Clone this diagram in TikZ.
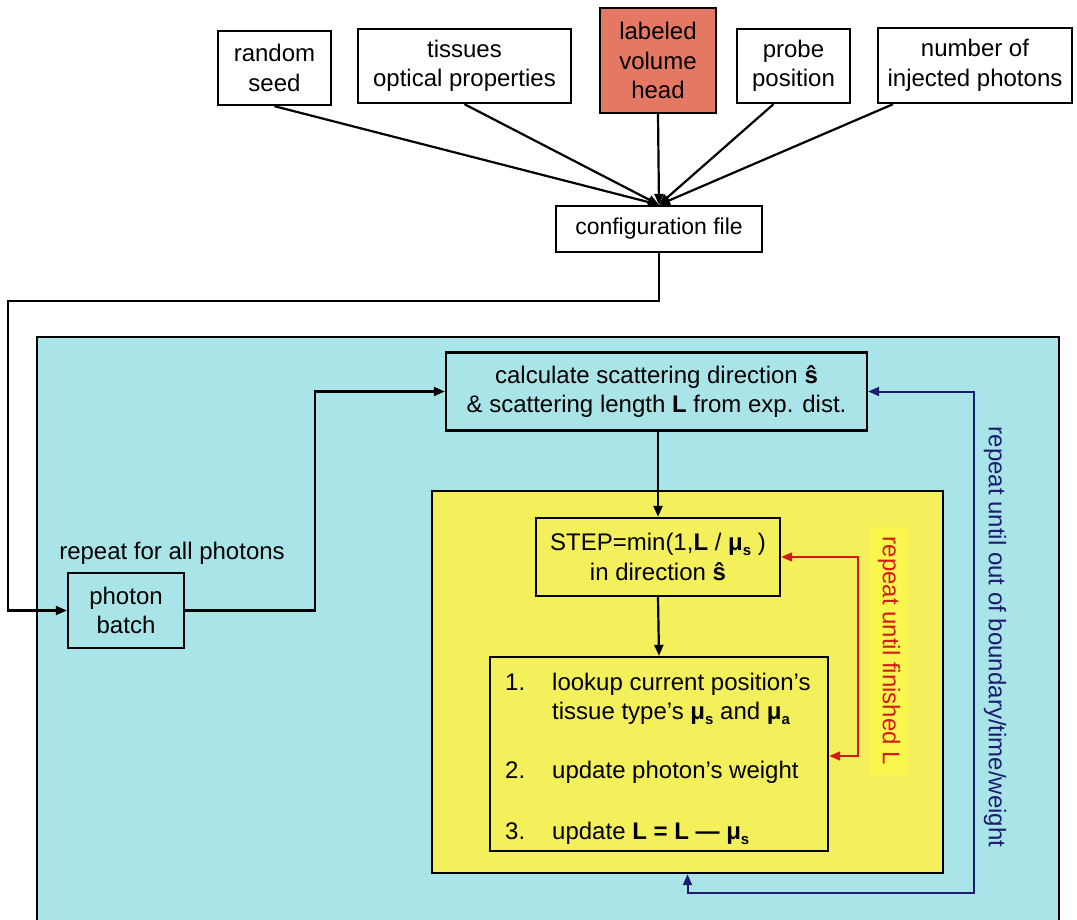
\documentclass[tikz,border=0pt]{standalone}
\usepackage{fontspec}
\setmainfont{Liberation Sans}
\usetikzlibrary{arrows.meta}
\definecolor{cyanbg}{RGB}{168,228,232}
\definecolor{yelbg}{RGB}{243,240,92}
\definecolor{yelstrip}{RGB}{249,246,78}
\definecolor{salmon}{RGB}{228,120,98}
\definecolor{redln}{RGB}{212,25,25}
\definecolor{navy}{RGB}{28,28,112}
\newcommand{\mub}[1]{\textbf{μ}\raisebox{-5pt}{\fontsize{15}{15}\selectfont\bfseries #1}}
\tikzset{
  box/.style={draw=black, line width=2.4pt, inner sep=0pt, align=center, font=\fontsize{24}{29.5}\selectfont},
  txt/.style={inner sep=0pt, font=\fontsize{24}{29.5}\selectfont},
  conn/.style={line width=2.2pt},
  tip/.style={-{Triangle[length=11pt,width=9pt]}},
  tips/.style={{Triangle[length=11pt,width=9pt]}-{Triangle[length=11pt,width=9pt]}},
}
\begin{document}
\begin{tikzpicture}[x=1pt,y=-1pt]
\useasboundingbox (0,0) rectangle (1077,920);
% big cyan region
\fill[cyanbg] (37,337) rectangle (1059,920);
\draw[line width=2.4pt] (37,921) -- (37,337) -- (1059,337) -- (1059,921);
% yellow region
\node[box, fill=yelbg, minimum width=511pt, minimum height=382pt] (yel) at (687.5,682) {};

% top input boxes
\node[box, fill=white, minimum width=113pt, minimum height=74pt] (random) at (274.5,68) {random\\seed};
\node[box, fill=white, minimum width=213pt, minimum height=74pt] (tissues) at (464.5,66) {tissues\\optical properties};
\node[box, fill=salmon, minimum width=116pt, minimum height=105pt] (labeled) at (658,60.5) {labeled\\volume\\head};
\node[box, fill=white, minimum width=113pt, minimum height=74pt] (probe) at (793.5,66) {probe\\position};
\node[box, fill=white, minimum width=194pt, minimum height=75pt] (number) at (975,65.5) {number of\\injected photons};
\node[box, fill=white, minimum width=206pt, minimum height=46pt, font=\fontsize{23}{27}\selectfont] (config) at (659,229) {configuration file};

\draw[conn,tip] (random.south) -- (config.north);
\draw[conn,tip] (tissues.south) -- (config.north);
\draw[conn,tip] (labeled.south) -- (config.north);
\draw[conn,tip] ([xshift=-20pt]probe.south) -- (config.north);
\draw[conn,tip] ([xshift=-82pt]number.south) -- (config.north);

% photon batch
\node[box, fill=cyanbg, minimum width=116pt, minimum height=75pt] (photon) at (126,610.5) {photon\\batch};
\node[txt] (rep) at (172,553) {repeat for all photons};
\coordinate (c1) at (659,301);
\coordinate (c2) at (8,301);
\coordinate (c3) at (8,610.5);
\draw[conn,tip] (config.south) -- (c1) -- (c2) -- (c3) -- (photon.west);

% calc box
\node[box, fill=cyanbg, minimum width=421pt, minimum height=78pt] (calc) at (656.5,391.5) {calculate scattering direction \textbf{ŝ}\\\& scattering length \textbf{L} from exp. dist.};
\coordinate (d1) at (315,610.5);
\coordinate (d2) at (315,391.5);
\draw[conn,tip] (photon.east) -- (d1) -- (d2) -- (calc.west);

% step box
\node[box, fill=yelbg, minimum width=244pt, minimum height=78pt] (stepbox) at (658,557) {STEP=min(1,\textbf{L} / \mub{s} )\\in direction \textbf{ŝ}};
\draw[conn,tip] (stepbox.north |- calc.south) -- (stepbox.north);

% list box
\node[box, fill=yelbg, minimum width=338pt, minimum height=194pt] (list) at (659,754) {};
\node[txt, anchor=base west] (n1) at (505,690) {1.};
\node[txt, anchor=base west] (t1) at (552,690) {lookup current position’s};
\node[txt, anchor=base west] (t1b) at (552,719) {tissue type’s \mub{s} and \mub{a}};
\node[txt, anchor=base west] (n2) at (505,778) {2.};
\node[txt, anchor=base west] (t2) at (552,778) {update photon’s weight};
\node[txt, anchor=base west] (n3) at (505,839) {3.};
\node[txt, anchor=base west] (t3) at (552,839) {update \textbf{L = L — }\mub{s}};
\draw[conn,tip] (stepbox.south) -- (list.north);

% red inner loop
\coordinate (r1) at (858,557);
\coordinate (r2) at (858,756);
\draw[line width=2pt, redln, tips] (stepbox.east) -- (r1) -- (r2) -- ([yshift=-2pt]list.east);
\node[txt, fill=yelstrip, inner xsep=10pt, inner ysep=8pt, text=redln, rotate=-90] (redlab) at (889,651) {repeat until finished L};

% blue outer loop
\coordinate (b1) at (974,893);
\coordinate (b2) at (974,391.5);
\draw[line width=2pt, navy, tips] (yel.south) |- (b1) -- (b2) -- (calc.east);
\node[txt, text=navy, rotate=-90] (bluelab) at (995,637) {repeat until out of boundary/time/weight};
\end{tikzpicture}
\end{document}
